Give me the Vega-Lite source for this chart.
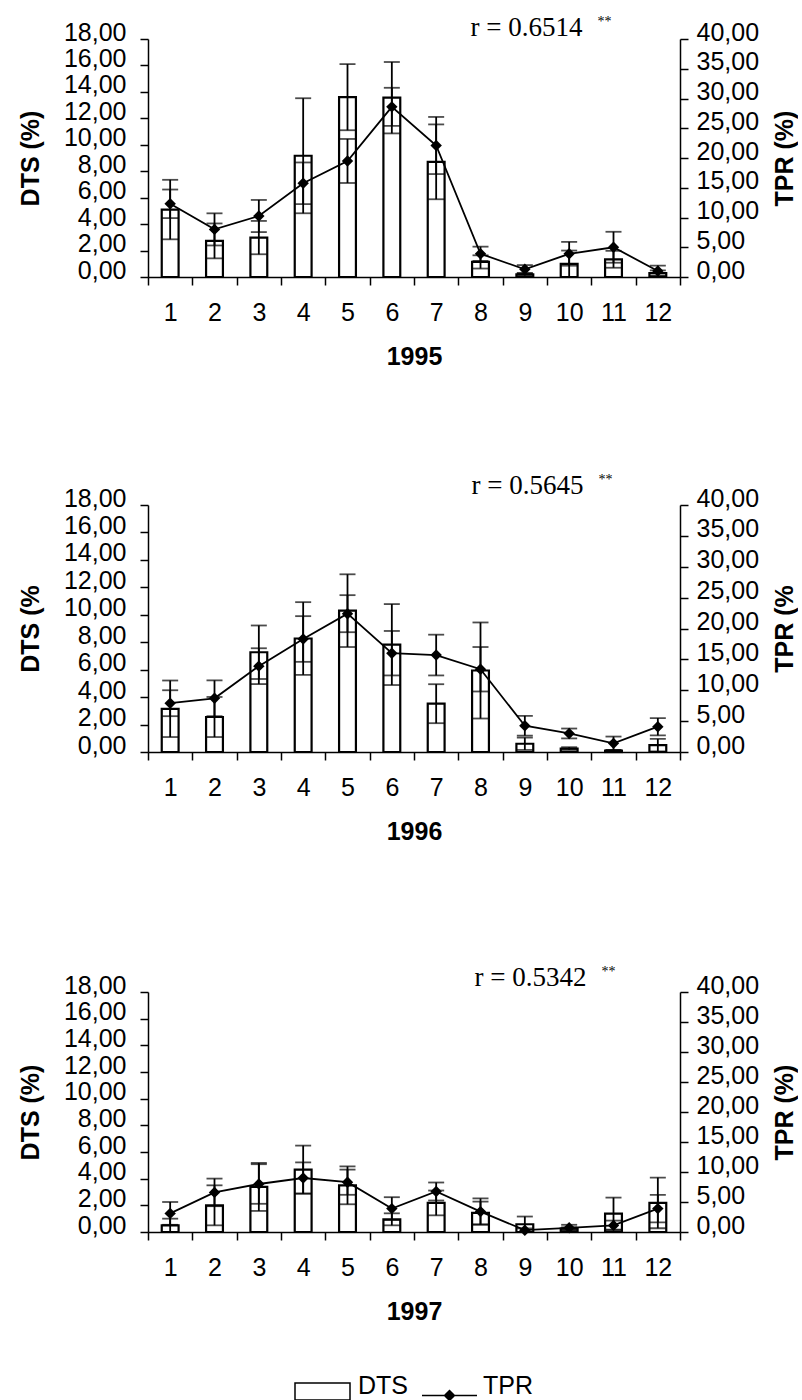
{
  "$schema": "https://vega.github.io/schema/vega-lite/v6.json",
  "padding": {"left": 18, "top": 13, "right": 0, "bottom": 0},
  "background": "white",
  "datasets": {
    "y1995": [
      {"month": 1, "DTS": 5.1, "DTS_sd": 2.25, "TPR": 12.3, "TPR_sd": 2.4},
      {"month": 2, "DTS": 2.73, "DTS_sd": 1.32, "TPR": 8.0, "TPR_sd": 2.7},
      {"month": 3, "DTS": 2.98, "DTS_sd": 1.26, "TPR": 10.25, "TPR_sd": 2.7},
      {"month": 4, "DTS": 9.17, "DTS_sd": 4.35, "TPR": 15.75, "TPR_sd": 3.5},
      {"month": 5, "DTS": 13.6, "DTS_sd": 2.5, "TPR": 19.5, "TPR_sd": 3.7},
      {"month": 6, "DTS": 13.56, "DTS_sd": 2.7, "TPR": 28.6, "TPR_sd": 3.2},
      {"month": 7, "DTS": 8.71, "DTS_sd": 2.83, "TPR": 22.1, "TPR_sd": 4.8},
      {"month": 8, "DTS": 1.14, "DTS_sd": 0.5, "TPR": 3.9, "TPR_sd": 1.2},
      {"month": 9, "DTS": 0.2, "DTS_sd": 0.1, "TPR": 1.3, "TPR_sd": 0.7},
      {"month": 10, "DTS": 1.0, "DTS_sd": 1.0, "TPR": 3.9, "TPR_sd": 2.0},
      {"month": 11, "DTS": 1.34, "DTS_sd": 0.64, "TPR": 5.0, "TPR_sd": 2.6},
      {"month": 12, "DTS": 0.3, "DTS_sd": 0.2, "TPR": 1.0, "TPR_sd": 0.9}
    ],
    "y1996": [
      {"month": 1, "DTS": 3.15, "DTS_sd": 2.06, "TPR": 7.9, "TPR_sd": 2.1},
      {"month": 2, "DTS": 2.55, "DTS_sd": 1.46, "TPR": 8.7, "TPR_sd": 2.9},
      {"month": 3, "DTS": 7.27, "DTS_sd": 1.95, "TPR": 13.9, "TPR_sd": 2.9},
      {"month": 4, "DTS": 8.27, "DTS_sd": 2.65, "TPR": 18.3, "TPR_sd": 3.7},
      {"month": 5, "DTS": 10.3, "DTS_sd": 2.65, "TPR": 22.4, "TPR_sd": 3.0},
      {"month": 6, "DTS": 7.83, "DTS_sd": 2.95, "TPR": 16.0, "TPR_sd": 3.6},
      {"month": 7, "DTS": 3.52, "DTS_sd": 1.42, "TPR": 15.7, "TPR_sd": 3.3},
      {"month": 8, "DTS": 5.94, "DTS_sd": 3.5, "TPR": 13.4, "TPR_sd": 3.6},
      {"month": 9, "DTS": 0.6, "DTS_sd": 0.45, "TPR": 4.25, "TPR_sd": 1.6},
      {"month": 10, "DTS": 0.25, "DTS_sd": 0.1, "TPR": 3.0, "TPR_sd": 0.8},
      {"month": 11, "DTS": 0.1, "DTS_sd": 0.05, "TPR": 1.4, "TPR_sd": 1.1},
      {"month": 12, "DTS": 0.5, "DTS_sd": 0.45, "TPR": 4.1, "TPR_sd": 1.4}
    ],
    "y1997": [
      {"month": 1, "DTS": 0.5, "DTS_sd": 0.5, "TPR": 3.1, "TPR_sd": 1.9},
      {"month": 2, "DTS": 2.0, "DTS_sd": 1.5, "TPR": 6.6, "TPR_sd": 2.3},
      {"month": 3, "DTS": 3.38, "DTS_sd": 1.8, "TPR": 8.0, "TPR_sd": 3.3},
      {"month": 4, "DTS": 4.68, "DTS_sd": 1.8, "TPR": 9.0, "TPR_sd": 2.6},
      {"month": 5, "DTS": 3.5, "DTS_sd": 1.42, "TPR": 8.3, "TPR_sd": 2.1},
      {"month": 6, "DTS": 0.95, "DTS_sd": 0.45, "TPR": 3.9, "TPR_sd": 1.9},
      {"month": 7, "DTS": 2.18, "DTS_sd": 0.93, "TPR": 6.75, "TPR_sd": 1.5},
      {"month": 8, "DTS": 1.43, "DTS_sd": 0.85, "TPR": 3.4, "TPR_sd": 2.2},
      {"month": 9, "DTS": 0.58, "DTS_sd": 0.58, "TPR": 0.3, "TPR_sd": 0.3},
      {"month": 10, "DTS": 0.25, "DTS_sd": 0.1, "TPR": 0.7, "TPR_sd": 0.5},
      {"month": 11, "DTS": 1.38, "DTS_sd": 1.2, "TPR": 1.1, "TPR_sd": 0.8},
      {"month": 12, "DTS": 2.18, "DTS_sd": 1.9, "TPR": 3.9, "TPR_sd": 2.3}
    ]
  },
  "bounds": "flush",
  "spacing": 228,
  "vconcat": [
    {
      "width": 532, "height": 238,
      "data": {"name": "y1995"},
      "resolve": {"scale": {"y": "independent"}},
      "layer": [
        {"encoding": {
           "x": {"field": "month", "type": "ordinal", "scale": {"paddingInner": 0, "paddingOuter": 0},
                 "axis": {"title": "1995", "tickBand": "extent", "labelAngle": 0, "labelPadding": 15, "titlePadding": 19}},
           "y": {"field": "DTS", "type": "quantitative", "scale": {"domain": [0, 18]},
                 "axis": {"title": "DTS (%)", "orient": "left", "values": [0,2,4,6,8,10,12,14,16,18], "format": ".2f", "labelPadding": 14, "labelOffset": -7, "titlePadding": 20}}},
         "layer": [
          {"mark": {"type": "bar", "stroke": "black", "strokeWidth": 2.2, "width": {"band": 0.38}},
           "encoding": {"fill": {"datum": "DTS", "scale": {"domain": ["DTS"], "range": ["white"]},
             "legend": {"orient": "none", "legendX": 146, "legendY": 1318, "title": null, "labelFont": "Liberation Sans", "labelFontSize": 25, "labelColor": "black", "labelOffset": 7, "symbolSize": 3025, "symbolType": "M-1,-0.09H1V0.53H-1Z", "symbolStrokeColor": "black", "symbolStrokeWidth": 1.5}}}},
          {"mark": {"type": "errorbar", "ticks": true, "size": 16, "thickness": 1.8, "color": "black"},
           "encoding": {"yError": {"field": "DTS_sd"}}},
          {"transform": [{"filter": "datum.month === 8"}],
           "mark": {"type": "text", "font": "Liberation Serif", "fontSize": 27, "align": "left", "baseline": "alphabetic", "dx": -10, "color": "black"},
           "encoding": {"y": {"datum": 18.23, "type": "quantitative", "scale": {"domain": [0, 18]},
                 "axis": {"title": "DTS (%)", "orient": "left", "values": [0,2,4,6,8,10,12,14,16,18], "format": ".2f", "labelPadding": 14, "labelOffset": -7, "titlePadding": 20}},
                        "text": {"value": "r = 0.6514"}}},
          {"transform": [{"filter": "datum.month === 8"}],
           "mark": {"type": "text", "font": "Liberation Serif", "fontSize": 14, "align": "left", "baseline": "alphabetic", "dx": 117, "dy": -10, "color": "black"},
           "encoding": {"y": {"datum": 18.23, "type": "quantitative", "scale": {"domain": [0, 18]},
                 "axis": {"title": "DTS (%)", "orient": "left", "values": [0,2,4,6,8,10,12,14,16,18], "format": ".2f", "labelPadding": 14, "labelOffset": -7, "titlePadding": 20}},
                        "text": {"value": "**"}}}
        ]},
        {"encoding": {
           "x": {"field": "month", "type": "ordinal", "scale": {"paddingInner": 0, "paddingOuter": 0},
                 "axis": {"title": "1995", "tickBand": "extent", "labelAngle": 0, "labelPadding": 15, "titlePadding": 19}},
           "y": {"field": "TPR", "type": "quantitative", "scale": {"domain": [0, 40]},
                 "axis": {"title": "TPR (%)", "orient": "right", "values": [0,5,10,15,20,25,30,35,40], "format": ".2f", "labelPadding": 8, "labelOffset": -7, "titleAngle": 270, "titleBaseline": "top", "titlePadding": 14}}},
         "layer": [
          {"mark": {"type": "line", "strokeWidth": 1.8},
           "encoding": {"stroke": {"datum": "TPR", "scale": {"domain": ["TPR"], "range": ["black"]},
             "legend": {"orient": "none", "legendX": 273, "legendY": 1318, "title": null, "labelFont": "Liberation Sans", "labelFontSize": 25, "labelColor": "black", "labelOffset": 5, "symbolSize": 3025, "symbolType": "M-1,0.36H1M0,0.18L0.18,0.36L0,0.54L-0.18,0.36Z", "symbolFillColor": "black", "symbolStrokeColor": "black", "symbolStrokeWidth": 1.5}}}},
          {"mark": {"type": "errorbar", "ticks": true, "size": 16, "thickness": 1.8, "color": "black"},
           "encoding": {"yError": {"field": "TPR_sd"}}},
          {"mark": {"type": "point", "shape": "diamond", "filled": true, "color": "black", "size": 130, "opacity": 1}}
        ]}
      ]
    },
    {
      "bounds": "flush",
      "spacing": 240,
      "vconcat": [
        {
          "width": 532, "height": 247,
          "data": {"name": "y1996"},
          "resolve": {"scale": {"y": "independent"}},
          "layer": [
            {"encoding": {
               "x": {"field": "month", "type": "ordinal", "scale": {"paddingInner": 0, "paddingOuter": 0},
                     "axis": {"title": "1996", "tickBand": "extent", "labelAngle": 0, "labelPadding": 15, "titlePadding": 19}},
               "y": {"field": "DTS", "type": "quantitative", "scale": {"domain": [0, 18]},
                     "axis": {"title": "DTS (%", "orient": "left", "values": [0,2,4,6,8,10,12,14,16,18], "format": ".2f", "labelPadding": 14, "labelOffset": -7, "titlePadding": 20}}},
             "layer": [
              {"mark": {"type": "bar", "stroke": "black", "strokeWidth": 2.2, "width": {"band": 0.38}},
               "encoding": {"fill": {"datum": "DTS", "scale": {"domain": ["DTS"], "range": ["white"]},
                 "legend": {"orient": "none", "legendX": 146, "legendY": 1318, "title": null, "labelFont": "Liberation Sans", "labelFontSize": 25, "labelColor": "black", "labelOffset": 7, "symbolSize": 3025, "symbolType": "M-1,-0.09H1V0.53H-1Z", "symbolStrokeColor": "black", "symbolStrokeWidth": 1.5}}}},
              {"mark": {"type": "errorbar", "ticks": true, "size": 16, "thickness": 1.8, "color": "black"},
               "encoding": {"yError": {"field": "DTS_sd"}}},
              {"transform": [{"filter": "datum.month === 8"}],
               "mark": {"type": "text", "font": "Liberation Serif", "fontSize": 27, "align": "left", "baseline": "alphabetic", "dx": -9, "color": "black"},
               "encoding": {"y": {"datum": 18.8, "type": "quantitative", "scale": {"domain": [0, 18]},
                     "axis": {"title": "DTS (%", "orient": "left", "values": [0,2,4,6,8,10,12,14,16,18], "format": ".2f", "labelPadding": 14, "labelOffset": -7, "titlePadding": 20}},
                            "text": {"value": "r = 0.5645"}}},
              {"transform": [{"filter": "datum.month === 8"}],
               "mark": {"type": "text", "font": "Liberation Serif", "fontSize": 14, "align": "left", "baseline": "alphabetic", "dx": 118, "dy": -10, "color": "black"},
               "encoding": {"y": {"datum": 18.8, "type": "quantitative", "scale": {"domain": [0, 18]},
                     "axis": {"title": "DTS (%", "orient": "left", "values": [0,2,4,6,8,10,12,14,16,18], "format": ".2f", "labelPadding": 14, "labelOffset": -7, "titlePadding": 20}},
                            "text": {"value": "**"}}}
            ]},
            {"encoding": {
               "x": {"field": "month", "type": "ordinal", "scale": {"paddingInner": 0, "paddingOuter": 0},
                     "axis": {"title": "1996", "tickBand": "extent", "labelAngle": 0, "labelPadding": 15, "titlePadding": 19}},
               "y": {"field": "TPR", "type": "quantitative", "scale": {"domain": [0, 40]},
                     "axis": {"title": "TPR (%", "orient": "right", "values": [0,5,10,15,20,25,30,35,40], "format": ".2f", "labelPadding": 8, "labelOffset": -7, "titleAngle": 270, "titleBaseline": "top", "titlePadding": 14}}},
             "layer": [
              {"mark": {"type": "line", "strokeWidth": 1.8},
               "encoding": {"stroke": {"datum": "TPR", "scale": {"domain": ["TPR"], "range": ["black"]},
                 "legend": {"orient": "none", "legendX": 273, "legendY": 1318, "title": null, "labelFont": "Liberation Sans", "labelFontSize": 25, "labelColor": "black", "labelOffset": 5, "symbolSize": 3025, "symbolType": "M-1,0.36H1M0,0.18L0.18,0.36L0,0.54L-0.18,0.36Z", "symbolFillColor": "black", "symbolStrokeColor": "black", "symbolStrokeWidth": 1.5}}}},
              {"mark": {"type": "errorbar", "ticks": true, "size": 16, "thickness": 1.8, "color": "black"},
               "encoding": {"yError": {"field": "TPR_sd"}}},
              {"mark": {"type": "point", "shape": "diamond", "filled": true, "color": "black", "size": 130, "opacity": 1}}
            ]}
          ]
        },
        {
          "width": 532, "height": 240,
          "data": {"name": "y1997"},
          "resolve": {"scale": {"y": "independent"}},
          "layer": [
            {"encoding": {
               "x": {"field": "month", "type": "ordinal", "scale": {"paddingInner": 0, "paddingOuter": 0},
                     "axis": {"title": "1997", "tickBand": "extent", "labelAngle": 0, "labelPadding": 15, "titlePadding": 19}},
               "y": {"field": "DTS", "type": "quantitative", "scale": {"domain": [0, 18]},
                     "axis": {"title": "DTS (%)", "orient": "left", "values": [0,2,4,6,8,10,12,14,16,18], "format": ".2f", "labelPadding": 14, "labelOffset": -7, "titlePadding": 20}}},
             "layer": [
              {"mark": {"type": "bar", "stroke": "black", "strokeWidth": 2.2, "width": {"band": 0.38}},
               "encoding": {"fill": {"datum": "DTS", "scale": {"domain": ["DTS"], "range": ["white"]},
                 "legend": {"orient": "none", "legendX": 146, "legendY": 1318, "title": null, "labelFont": "Liberation Sans", "labelFontSize": 25, "labelColor": "black", "labelOffset": 7, "symbolSize": 3025, "symbolType": "M-1,-0.09H1V0.53H-1Z", "symbolStrokeColor": "black", "symbolStrokeWidth": 1.5}}}},
              {"mark": {"type": "errorbar", "ticks": true, "size": 16, "thickness": 1.8, "color": "black"},
               "encoding": {"yError": {"field": "DTS_sd"}}},
              {"transform": [{"filter": "datum.month === 8"}],
               "mark": {"type": "text", "font": "Liberation Serif", "fontSize": 27, "align": "left", "baseline": "alphabetic", "dx": -6, "color": "black"},
               "encoding": {"y": {"datum": 18.45, "type": "quantitative", "scale": {"domain": [0, 18]},
                     "axis": {"title": "DTS (%)", "orient": "left", "values": [0,2,4,6,8,10,12,14,16,18], "format": ".2f", "labelPadding": 14, "labelOffset": -7, "titlePadding": 20}},
                            "text": {"value": "r = 0.5342"}}},
              {"transform": [{"filter": "datum.month === 8"}],
               "mark": {"type": "text", "font": "Liberation Serif", "fontSize": 14, "align": "left", "baseline": "alphabetic", "dx": 121, "dy": -10, "color": "black"},
               "encoding": {"y": {"datum": 18.45, "type": "quantitative", "scale": {"domain": [0, 18]},
                     "axis": {"title": "DTS (%)", "orient": "left", "values": [0,2,4,6,8,10,12,14,16,18], "format": ".2f", "labelPadding": 14, "labelOffset": -7, "titlePadding": 20}},
                            "text": {"value": "**"}}}
            ]},
            {"encoding": {
               "x": {"field": "month", "type": "ordinal", "scale": {"paddingInner": 0, "paddingOuter": 0},
                     "axis": {"title": "1997", "tickBand": "extent", "labelAngle": 0, "labelPadding": 15, "titlePadding": 19}},
               "y": {"field": "TPR", "type": "quantitative", "scale": {"domain": [0, 40]},
                     "axis": {"title": "TPR (%)", "orient": "right", "values": [0,5,10,15,20,25,30,35,40], "format": ".2f", "labelPadding": 8, "labelOffset": -7, "titleAngle": 270, "titleBaseline": "top", "titlePadding": 14}}},
             "layer": [
              {"mark": {"type": "line", "strokeWidth": 1.8},
               "encoding": {"stroke": {"datum": "TPR", "scale": {"domain": ["TPR"], "range": ["black"]},
                 "legend": {"orient": "none", "legendX": 273, "legendY": 1318, "title": null, "labelFont": "Liberation Sans", "labelFontSize": 25, "labelColor": "black", "labelOffset": 5, "symbolSize": 3025, "symbolType": "M-1,0.36H1M0,0.18L0.18,0.36L0,0.54L-0.18,0.36Z", "symbolFillColor": "black", "symbolStrokeColor": "black", "symbolStrokeWidth": 1.5}}}},
              {"mark": {"type": "errorbar", "ticks": true, "size": 16, "thickness": 1.8, "color": "black"},
               "encoding": {"yError": {"field": "TPR_sd"}}},
              {"mark": {"type": "point", "shape": "diamond", "filled": true, "color": "black", "size": 130, "opacity": 1}}
            ]}
          ]
        }
      ]
    }
  ],
  "config": {
    "locale": {"number": {"decimal": ",", "thousands": ".", "grouping": [3], "currency": ["", ""]}},
    "view": {"stroke": null},
    "font": "Liberation Sans",
    "axis": {"domainColor": "black", "domainWidth": 1.5, "tickColor": "black", "tickWidth": 1.5, "tickSize": 8,
      "labelColor": "black", "labelFont": "Liberation Sans", "labelFontSize": 25,
      "titleFont": "Liberation Sans", "titleFontSize": 25, "titleFontWeight": "bold", "titleColor": "black",
      "grid": false, "labelOverlap": false}
  }
}
